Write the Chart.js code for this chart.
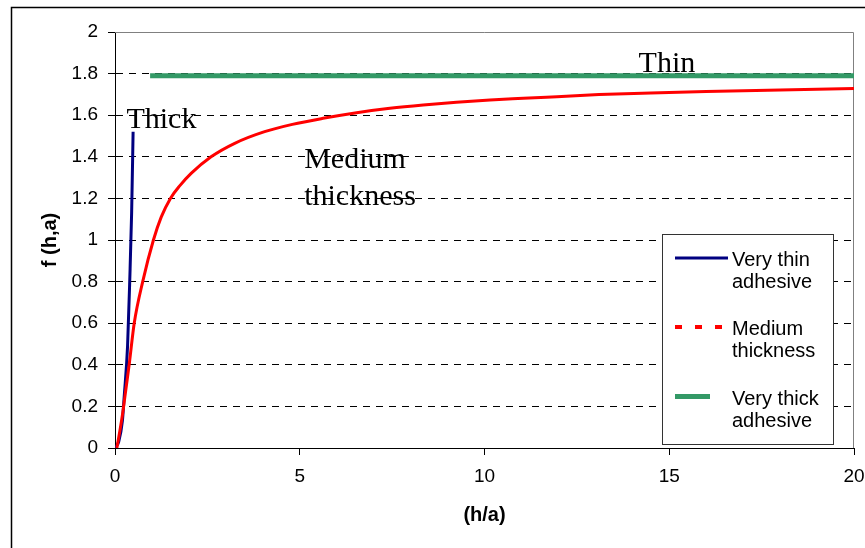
<!DOCTYPE html>
<html>
<head>
<meta charset="utf-8">
<script src="https://cdn.jsdelivr.net/npm/chart.js@4.4.0/dist/chart.umd.min.js"></script>
<style>
    body { margin: 0; background: #fff; }
    #wrap { width: 865px; height: 548px; }
</style>
</head>
<body>
<div id="wrap"><canvas id="myChart" width="865" height="548"></canvas></div>
<script>
let xTicks = [0, 5, 10, 15, 20];
let yTicks = [0, 0.2, 0.4, 0.6, 0.8, 1, 1.2, 1.4, 1.6, 1.8, 2];

// very thin adhesive
let thinX = [0, 0.1, 0.2, 0.25, 0.34, 0.4, 0.45, 0.49];
let thinY = [0, 0.03, 0.13, 0.25, 0.49, 0.81, 1.13, 1.52];

// medium thickness
let mediumX = [0.05, 0.13, 0.21, 0.3, 0.39, 0.52, 0.75, 1.04, 1.25, 1.5, 1.75, 2.06, 2.6, 3.24, 4.05, 4.8,
    5.63, 6.54, 7.44, 8.34, 9.24, 10.15, 11.05, 11.96, 13.1, 14.5, 16, 18, 20];
let mediumY = [0, 0.08, 0.17, 0.29, 0.41, 0.6, 0.8, 1.0, 1.11, 1.2, 1.26, 1.32, 1.40, 1.465, 1.521, 1.556,
    1.585, 1.612, 1.633, 1.649, 1.662, 1.673, 1.681, 1.689, 1.699, 1.707, 1.714, 1.721, 1.728];

// very thick adhesive
let thickX = [0.95, 20];
let thickY = [1.79, 1.79];

let seriesNames = [['Very thin', 'adhesive'], ['Medium', 'thickness'], ['Very thick', 'adhesive']];
let seriesColors = ['#000080', '#ff0000', '#339966'];

let notes = ['Thick', 'Thin', 'Medium', 'thickness'];
let noteX = [0.31, 14.17, 5.12, 5.12];
let noteY = [1.54, 1.81, 1.345, 1.168];


function toPoints(xs, ys) {
    let points = [];
    for (let i = 0; i < xs.length; i++) {
        points.push({ x: xs[i], y: ys[i] });
    }
    return points;
}


function drawLegend(ctx, area) {
    let left = area.right - 192;
    let top = 234;
    ctx.save();
    ctx.fillStyle = '#fff';
    ctx.fillRect(left, top, 171, 210);
    ctx.strokeStyle = '#333';
    ctx.lineWidth = 1;
    ctx.strokeRect(left + 0.5, top + 0.5, 171, 210);

    let sampleY = [258, 327, 396.5];
    let textY = [266, 335, 405];
    let widths = [3, 4, 5];
    let dashes = [[], [7, 13], []];
    let lengths = [53, 49, 35];
    for (let i = 0; i < seriesNames.length; i++) {
        ctx.beginPath();
        ctx.strokeStyle = seriesColors[i];
        ctx.lineWidth = widths[i];
        ctx.setLineDash(dashes[i]);
        ctx.moveTo(left + 13, sampleY[i]);
        ctx.lineTo(left + 13 + lengths[i], sampleY[i]);
        ctx.stroke();
        ctx.setLineDash([]);

        ctx.fillStyle = '#000';
        ctx.font = '20px "Liberation Sans", Arial, sans-serif';
        ctx.textBaseline = 'alphabetic';
        ctx.fillText(seriesNames[i][0], left + 70, textY[i]);
        ctx.fillText(seriesNames[i][1], left + 70, textY[i] + 22);
    }
    ctx.restore();
}


let chartDecor = {
    id: 'chartDecor',
    beforeDraw(chart) {
        let ctx = chart.ctx;
        ctx.save();
        ctx.fillStyle = '#fff';
        ctx.fillRect(0, 0, chart.width, chart.height);
        ctx.strokeStyle = '#000';
        ctx.lineWidth = 1.5;
        ctx.beginPath();
        ctx.moveTo(11.5, chart.height);
        ctx.lineTo(11.5, 7.5);
        ctx.lineTo(chart.width, 7.5);
        ctx.stroke();
        ctx.restore();
    },
    beforeDatasetsDraw(chart) {
        // grey frame on the top and right of the plot area
        let ctx = chart.ctx;
        let area = chart.chartArea;
        ctx.save();
        ctx.strokeStyle = '#808080';
        ctx.lineWidth = 1;
        ctx.beginPath();
        ctx.moveTo(area.left, area.top + 0.5);
        ctx.lineTo(area.right - 0.5, area.top + 0.5);
        ctx.lineTo(area.right - 0.5, area.bottom);
        ctx.stroke();
        ctx.restore();
    },
    afterDraw(chart) {
        let ctx = chart.ctx;
        let x = chart.scales.x;
        let y = chart.scales.y;
        ctx.save();
        ctx.fillStyle = '#000';
        ctx.font = '30px "Liberation Serif", "Times New Roman", serif';
        ctx.textBaseline = 'alphabetic';
        for (let i = 0; i < notes.length; i++) {
            ctx.fillText(notes[i], x.getPixelForValue(noteX[i]), y.getPixelForValue(noteY[i]));
        }
        ctx.restore();
        drawLegend(ctx, chart.chartArea);
    }
};


let tickFont = { family: '"Liberation Sans", Arial, sans-serif', size: 19 };
let titleFont = { family: '"Liberation Sans", Arial, sans-serif', size: 20, weight: 'bold' };

new Chart(document.getElementById('myChart'), {
    type: 'line',
    data: {
        datasets: [
            {
                label: seriesNames[0].join(' '),
                data: toPoints(thinX, thinY),
                borderColor: seriesColors[0],
                borderWidth: 3,
                cubicInterpolationMode: 'monotone',
                order: 1
            },
            {
                label: seriesNames[1].join(' '),
                data: toPoints(mediumX, mediumY),
                borderColor: seriesColors[1],
                borderWidth: 3,
                cubicInterpolationMode: 'monotone',
                order: 0
            },
            {
                label: seriesNames[2].join(' '),
                data: toPoints(thickX, thickY),
                borderColor: seriesColors[2],
                borderWidth: 5,
                order: 2
            }
        ]
    },
    options: {
        responsive: false,
        animation: false,
        layout: { padding: { left: 0, top: 32, right: 0, bottom: 0 } },
        elements: { point: { radius: 0 }, line: { borderCapStyle: 'butt' } },
        plugins: {
            legend: { display: false },
            tooltip: { enabled: false }
        },
        scales: {
            x: {
                type: 'linear',
                min: 0,
                max: 20,
                afterFit: (scale) => {
                    scale.height = 100;
                    scale.paddingRight = 11;
                },
                afterBuildTicks: (scale) => { scale.ticks = xTicks.map(v => ({ value: v })); },
                ticks: { color: '#000', font: tickFont, padding: 10, maxRotation: 0 },
                grid: { drawOnChartArea: false, drawTicks: true, tickLength: 7, tickColor: '#000' },
                border: { display: true, color: '#000', width: 1 },
                title: {
                    display: true,
                    text: '(h/a)',
                    color: '#000',
                    font: titleFont,
                    padding: { top: 0, bottom: 21 }
                }
            },
            y: {
                min: 0,
                max: 2,
                afterFit: (scale) => { scale.width = 115; },
                afterBuildTicks: (scale) => { scale.ticks = yTicks.map(v => ({ value: v })); },
                ticks: { color: '#000', font: tickFont, padding: 10, callback: (v) => String(v) },
                grid: {
                    color: (c) => (c.tick && (c.tick.value === 0 || c.tick.value === 2)) ? 'rgba(0,0,0,0)' : '#000',
                    lineWidth: 1,
                    drawTicks: true,
                    tickLength: 7,
                    tickColor: '#000',
                    tickBorderDash: []
                },
                border: { display: true, color: '#000', width: 1, dash: [7, 6] },
                title: {
                    display: true,
                    text: 'f (h,a)',
                    color: '#000',
                    font: titleFont,
                    padding: { top: 38, bottom: 0 }
                }
            }
        }
    },
    plugins: [chartDecor]
});
</script>
</body>
</html>
